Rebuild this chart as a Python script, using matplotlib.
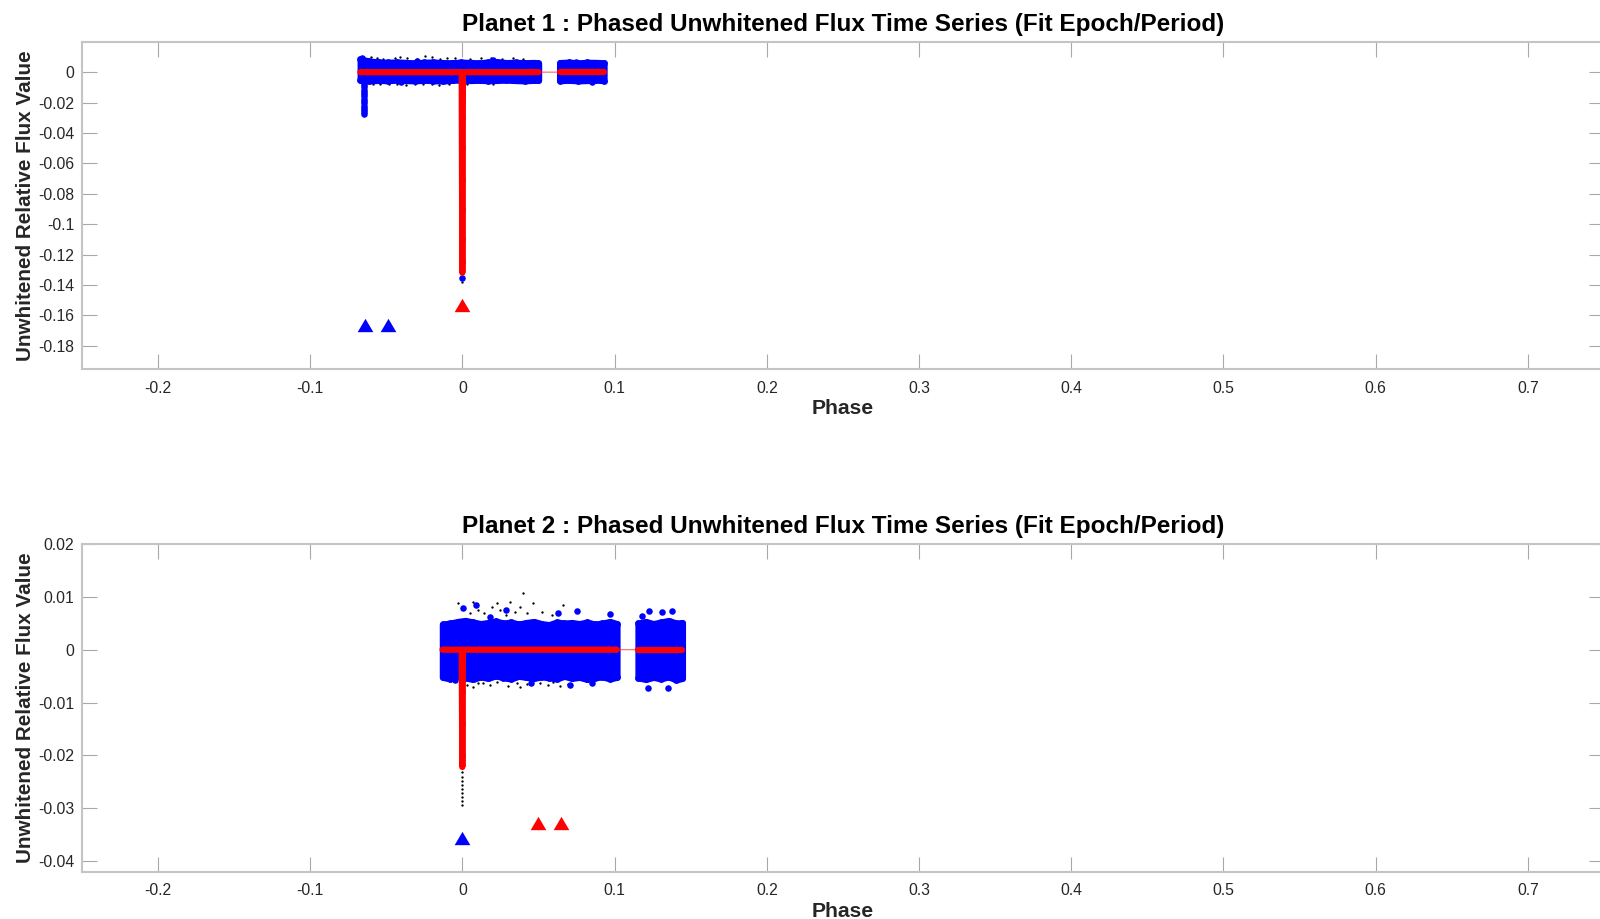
import matplotlib
matplotlib.use("Agg")
import matplotlib.pyplot as plt
import numpy as np

plt.rcParams['font.family'] = ['Liberation Sans', 'DejaVu Sans']

# ---- shared axis setup ----
x_ticks = [-0.2, -0.1, 0, 0.1, 0.2, 0.3, 0.4, 0.5, 0.6, 0.7]
x_tick_labels = ['-0.2', '-0.1', '0', '0.1', '0.2', '0.3', '0.4', '0.5', '0.6', '0.7']

# ---- planet 1 ----
p1_yticks = [0, -0.02, -0.04, -0.06, -0.08, -0.1, -0.12, -0.14, -0.16, -0.18]
p1_ytick_labels = ['0', '-0.02', '-0.04', '-0.06', '-0.08', '-0.1', '-0.12', '-0.14', '-0.16', '-0.18']

# binned flux envelope (upper / lower circle centres) per data segment
p1_seg1_phase = [-0.067, -0.061, -0.055, -0.049, -0.043, -0.037, -0.031, -0.025, -0.019, -0.013, -0.007,
                 -0.001, 0.005, 0.011, 0.017, 0.023, 0.029, 0.035, 0.041, 0.047, 0.050]
p1_seg1_upper = [0.0085, 0.0072, 0.0066, 0.0064, 0.0066, 0.0063, 0.0060, 0.0064, 0.0066, 0.0062, 0.0061,
                 0.0065, 0.0063, 0.0060, 0.0066, 0.0068, 0.0062, 0.0064, 0.0061, 0.0063, 0.0060]
p1_seg1_lower = [-0.0052, -0.0056, -0.0053, -0.0055, -0.0051, -0.0054, -0.0056, -0.0052, -0.0055, -0.0057, -0.0053,
                 -0.0050, -0.0054, -0.0052, -0.0055, -0.0053, -0.0051, -0.0054, -0.0056, -0.0052, -0.0053]
p1_seg2_phase = [0.064, 0.070, 0.076, 0.082, 0.088, 0.093]
p1_seg2_upper = [0.0062, 0.0065, 0.0060, 0.0064, 0.0063, 0.0061]
p1_seg2_lower = [-0.0055, -0.0052, -0.0056, -0.0054, -0.0051, -0.0055]

# in-transit points (planet 2 event and planet 1 dip)
p1_tail_phase = [-0.0645] * 17 + [0.0] * 8
p1_tail_flux = [-0.004, -0.0055, -0.007, -0.0085, -0.010, -0.0115, -0.013, -0.0145, -0.016,
                -0.0175, -0.019, -0.0205, -0.022, -0.0235, -0.025, -0.0265, -0.0278,
                -0.010, -0.030, -0.050, -0.070, -0.090, -0.110, -0.125, -0.1355]

p1_out_phase = [-0.066, -0.030, 0.020, 0.075, 0.085, -0.040]
p1_out_flux = [0.0092, 0.0072, 0.0078, 0.0070, -0.0062, -0.0064]

# unbinned flux points left visible outside the binned band
p1_dot_phase = [-0.0600, -0.0560, -0.0519, -0.0442, -0.0409, -0.0365, -0.0300, -0.0245, -0.0201, -0.0146,
                -0.0100, -0.0048, 0.0051, 0.0120, 0.0190, 0.0260, 0.0330, 0.0400,
                -0.0590, -0.0540, -0.0480, -0.0430, -0.0370, -0.0310, -0.0260, -0.0200, -0.0150, -0.0090,
                0.0030, 0.0200, 0.0]
p1_dot_flux = [0.0098, 0.0091, 0.0089, 0.0095, 0.0103, 0.0090, 0.0088, 0.0109, 0.0103, 0.0089,
               0.0092, 0.0094, 0.0088, 0.0090, 0.0096, 0.0087, 0.0091, 0.0089,
               -0.0078, -0.0081, -0.0077, -0.0079, -0.0083, -0.0078, -0.0080, -0.0077, -0.0082, -0.0079,
               -0.0078, -0.0080, -0.1380]

p1_model_phase = [-0.067, -0.0004, 0.0, 0.0004, 0.050, 0.064, 0.093]
p1_model_flux = [0, 0, -0.132, 0, 0, 0, 0]
p1_segments = [(-0.067, 0.050), (0.064, 0.093)]

p1_tri_blue_phase = [-0.0640, -0.0490]
p1_tri_blue_flux = [-0.1665, -0.1665]
p1_tri_red_phase = [0.0]
p1_tri_red_flux = [-0.153]

# ---- planet 2 ----
p2_yticks = [0.02, 0.01, 0, -0.01, -0.02, -0.03, -0.04]
p2_ytick_labels = ['0.02', '0.01', '0', '-0.01', '-0.02', '-0.03', '-0.04']

p2_seg1_phase = [-0.013, -0.008, -0.003, 0.002, 0.007, 0.012, 0.017, 0.022, 0.027, 0.032, 0.037, 0.042,
                 0.047, 0.052, 0.057, 0.062, 0.067, 0.072, 0.077, 0.082, 0.087, 0.092, 0.097, 0.1015]
p2_seg1_upper = [0.0048, 0.0050, 0.0053, 0.0055, 0.0052, 0.0049, 0.0051, 0.0054, 0.0050, 0.0052, 0.0048, 0.0051,
                 0.0053, 0.0049, 0.0047, 0.0052, 0.0050, 0.0051, 0.0049, 0.0052, 0.0048, 0.0050, 0.0053, 0.0049]
p2_seg1_lower = [-0.0052, -0.0055, -0.0050, -0.0053, -0.0056, -0.0051, -0.0054, -0.0049, -0.0053, -0.0055, -0.0050, -0.0052,
                 -0.0054, -0.0051, -0.0053, -0.0055, -0.0050, -0.0054, -0.0052, -0.0056, -0.0053, -0.0051, -0.0055, -0.0052]
p2_seg2_phase = [0.1155, 0.1205, 0.1255, 0.1305, 0.1355, 0.1405, 0.1445]
p2_seg2_upper = [0.0050, 0.0053, 0.0049, 0.0052, 0.0055, 0.0050, 0.0051]
p2_seg2_lower = [-0.0053, -0.0056, -0.0052, -0.0055, -0.0051, -0.0057, -0.0054]

p2_tail_phase = [0.0, 0.0, 0.0]
p2_tail_flux = [-0.008, -0.014, -0.020]

p2_out_phase = [0.0007, 0.0090, 0.0287, 0.0630, 0.0755, 0.0970, 0.1228, 0.1313, 0.1379,
                -0.0048, 0.1217, 0.1353, 0.0707, 0.0180, 0.0450, 0.0850, 0.1180]
p2_out_flux = [0.0078, 0.0085, 0.0075, 0.0069, 0.0074, 0.0068, 0.0074, 0.0071, 0.0074,
               -0.0057, -0.0073, -0.0073, -0.0067, 0.0062, -0.0064, -0.0063, 0.0063]

p2_dot_phase = [-0.0026, -0.0004, 0.0072, 0.0051, 0.0105, 0.0193, 0.0226, 0.0248, 0.0313, 0.0346,
                0.0401, 0.0423, 0.0466, 0.0521, 0.0587, 0.0663, 0.0140, 0.0290, 0.0380,
                0.0029, 0.0072, 0.0138, 0.0182, 0.0226, 0.0357, 0.0379, 0.0423, 0.0510, 0.0565,
                0.0597, 0.0641, 0.0696, 0.0100, 0.0300,
                0.0, 0.0, 0.0, 0.0, 0.0, 0.0, 0.0, 0.0, 0.0]
p2_dot_flux = [0.0088, 0.0081, 0.0091, 0.0069, 0.0075, 0.0081, 0.0088, 0.0075, 0.0091, 0.0072,
               0.0107, 0.0069, 0.0088, 0.0072, 0.0066, 0.0085, 0.0070, 0.0066, 0.0080,
               -0.0066, -0.0070, -0.0063, -0.0067, -0.0062, -0.0064, -0.0070, -0.0065, -0.0063, -0.0066,
               -0.0062, -0.0068, -0.0065, -0.0064, -0.0068,
               -0.0232, -0.0240, -0.0248, -0.0256, -0.0263, -0.0271, -0.0279, -0.0286, -0.0294]

p2_model_phase = [-0.013, -0.0004, 0.0, 0.0004, 0.1015, 0.1155, 0.1445]
p2_model_flux = [0, 0, -0.0222, 0, 0, 0, 0]
p2_segments = [(-0.013, 0.1015), (0.1155, 0.1445)]

p2_tri_blue_phase = [0.0]
p2_tri_blue_flux = [-0.0357]
p2_tri_red_phase = [0.0495, 0.0646]
p2_tri_red_flux = [-0.0327, -0.0327]

TRIANGLE = [(-1, -0.85), (1, -0.85), (0, 0.85)]
SPINE = '#c4c4c4'
TEXT = '#262626'


def draw_panel(ax, title, bands, tail, outliers, dots, model, segments, tri_blue, tri_red,
               ylim, yticks, ytick_labels):
    # raw points
    ax.plot(dots[0], dots[1], 'o', color='black', ms=1.7, mew=0, zorder=2)
    # binned points
    for ph, up, lo in bands:
        ax.fill_between(ph, lo, up, facecolor='blue', edgecolor='blue', linewidth=4.7,
                        joinstyle='round', zorder=3)
        ax.plot(ph, up, 'o', color='blue', ms=4.9, mew=0, zorder=3)
        ax.plot(ph, lo, 'o', color='blue', ms=4.9, mew=0, zorder=3)
    ax.plot(tail[0], tail[1], 'o', color='blue', ms=4.7, mew=0, zorder=3)
    ax.plot(outliers[0], outliers[1], 'o', color='blue', ms=4.7, mew=0, zorder=3)
    # transit model
    mph = np.array(model[0])
    mfl = np.array(model[1])
    ax.plot(mph, mfl, '-', color='red', lw=0.9, alpha=0.55, zorder=4)
    for a, b in segments:
        m = (mph >= a) & (mph <= b)
        ax.plot(mph[m], mfl[m], '-', color='red', lw=4.5, solid_capstyle='round',
                solid_joinstyle='round', zorder=4)
    # transit markers
    ax.plot(tri_blue[0], tri_blue[1], marker=TRIANGLE, ls='none', color='blue', ms=11.3, mew=0, zorder=5)
    ax.plot(tri_red[0], tri_red[1], marker=TRIANGLE, ls='none', color='red', ms=11.3, mew=0, zorder=5)

    ax.set_xlim(-0.25, 0.75)
    ax.set_ylim(*ylim)
    ax.set_xticks(x_ticks, x_tick_labels)
    ax.set_yticks(yticks, ytick_labels)
    ax.tick_params(direction='in', top=True, right=True, length=11, width=0.8,
                   color='#a8a8a8', labelcolor=TEXT, labelsize=11.3)
    ax.tick_params(axis='y', pad=5.5)
    ax.tick_params(axis='x', pad=8.5)
    for s in ax.spines.values():
        s.set_color(SPINE)
        s.set_linewidth(1.5)

    ax.set_title(title, fontsize=17.5, fontweight='bold', pad=8)
    ax.set_xlabel('Phase', fontsize=15.2, fontweight='bold', color=TEXT)
    ax.set_ylabel('Unwhitened Relative Flux Value', fontsize=14.9, fontweight='bold', color=TEXT)
    ax.xaxis.set_label_coords(0.5, -0.092)
    ax.yaxis.set_label_coords(-0.0304, 0.5)


fig = plt.figure(figsize=(16, 9.19), dpi=100)
ax1 = fig.add_axes([0.0511, 0.5985, 0.9514, 0.3562])
ax2 = fig.add_axes([0.0511, 0.0515, 0.9514, 0.3566])

draw_panel(ax1, 'Planet 1 : Phased Unwhitened Flux Time Series (Fit Epoch/Period)',
           [(p1_seg1_phase, p1_seg1_upper, p1_seg1_lower), (p1_seg2_phase, p1_seg2_upper, p1_seg2_lower)],
           (p1_tail_phase, p1_tail_flux), (p1_out_phase, p1_out_flux), (p1_dot_phase, p1_dot_flux),
           (p1_model_phase, p1_model_flux), p1_segments,
           (p1_tri_blue_phase, p1_tri_blue_flux), (p1_tri_red_phase, p1_tri_red_flux),
           (-0.1953, 0.0201), p1_yticks, p1_ytick_labels)

draw_panel(ax2, 'Planet 2 : Phased Unwhitened Flux Time Series (Fit Epoch/Period)',
           [(p2_seg1_phase, p2_seg1_upper, p2_seg1_lower), (p2_seg2_phase, p2_seg2_upper, p2_seg2_lower)],
           (p2_tail_phase, p2_tail_flux), (p2_out_phase, p2_out_flux), (p2_dot_phase, p2_dot_flux),
           (p2_model_phase, p2_model_flux), p2_segments,
           (p2_tri_blue_phase, p2_tri_blue_flux), (p2_tri_red_phase, p2_tri_red_flux),
           (-0.042, 0.02), p2_yticks, p2_ytick_labels)

fig.savefig('out.png', dpi=100)
